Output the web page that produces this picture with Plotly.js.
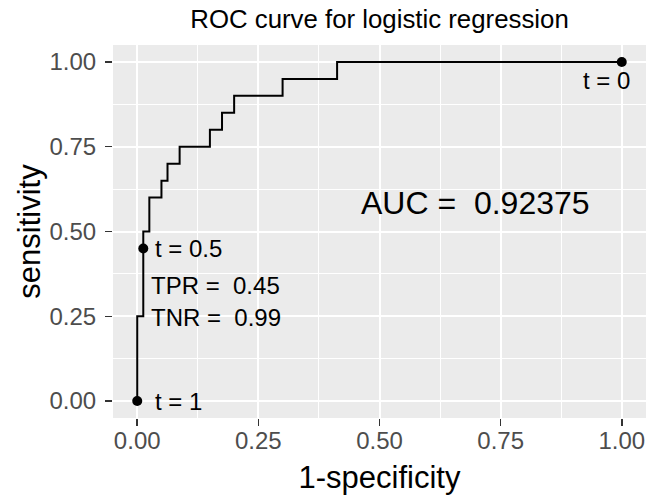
<!DOCTYPE html>
<html>
<head>
<meta charset="utf-8">
<script src="https://cdn.plot.ly/plotly-3.0.1.min.js"></script>
<style>html,body{margin:0;padding:0;background:#fff;}#chart{width:648px;height:499px;}</style>
</head>
<body>
<div id="chart"></div>
<script>
// ROC curve corner points (1-specificity, sensitivity)
var fpr = [0, 0, 0.0125, 0.025, 0.05, 0.0625, 0.0875, 0.15, 0.175, 0.2, 0.3, 0.4125, 1];
var tpr = [0, 0.25, 0.5, 0.6, 0.65, 0.7, 0.75, 0.8, 0.85, 0.9, 0.95, 1, 1];
// highlighted thresholds
var thrLabels = ["t = 1", "t = 0.5", "t = 0"];
var thrFpr = [0, 0.0125, 1];
var thrTpr = [0, 0.45, 1];
var tprAtHalf = 0.45;
var tnrAtHalf = 0.99;
var auc = 0.92375;
var tickVals = [0, 0.25, 0.5, 0.75, 1];
var tickText = ["0.00", "0.25", "0.50", "0.75", "1.00"];

var FONT = "Liberation Sans, Arial, sans-serif";

var traces = [
  {x: fpr, y: tpr, type: "scatter", mode: "lines", line: {shape: "hv", color: "#000", width: 2}, hoverinfo: "skip"},
  {x: thrFpr, y: thrTpr, type: "scatter", mode: "markers", marker: {color: "#000", size: 10}, hoverinfo: "skip"}
];

function axis(titleText, standoff) {
  return {
    range: [-0.05, 1.05],
    tickvals: tickVals,
    ticktext: tickText,
    ticks: "outside",
    ticklen: 7,
    tickwidth: 1.5,
    tickcolor: "#333333",
    tickfont: {family: FONT, size: 24, color: "#4D4D4D"},
    ticklabelstandoff: standoff,
    showgrid: true,
    gridcolor: "#FFFFFF",
    gridwidth: 2,
    minor: {tick0: 0.125, dtick: 0.25, showgrid: true, gridcolor: "#FFFFFF", gridwidth: 1, ticks: ""},
    zeroline: false,
    showline: false,
    fixedrange: true,
    title: {text: titleText, font: {family: FONT, size: 31, color: "#000"}}
  };
}

var xax = axis("1-specificity", -6);
xax.automargin = true;
xax.title.standoff = 13;

var layout = {
  width: 648,
  height: 499,
  margin: {l: 113, r: 2, t: 45, b: 81},
  paper_bgcolor: "#FFFFFF",
  plot_bgcolor: "#EBEBEB",
  showlegend: false,
  title: {text: "ROC curve for logistic regression", font: {family: FONT, size: 25.8, color: "#000"}, x: 0.5, xref: "paper", xanchor: "center", y: 0.962, yref: "container", yanchor: "middle"},
  xaxis: xax,
  yaxis: axis("sensitivity", 4),
  annotations: [
    {x: 0.032, y: thrTpr[0], text: thrLabels[0], xanchor: "left", yanchor: "middle", showarrow: false, font: {family: FONT, size: 24, color: "#000"}},
    {x: 0.033, y: thrTpr[1], text: thrLabels[1], xanchor: "left", yanchor: "middle", showarrow: false, font: {family: FONT, size: 24, color: "#000"}},
    {x: 0.025, y: 0.342, text: "TPR =  " + tprAtHalf.toFixed(2), xanchor: "left", yanchor: "middle", showarrow: false, font: {family: FONT, size: 24, color: "#000"}},
    {x: 0.025, y: 0.246, text: "TNR =  " + tnrAtHalf.toFixed(2), xanchor: "left", yanchor: "middle", showarrow: false, font: {family: FONT, size: 24, color: "#000"}},
    {x: 1.022, y: 0.944, text: thrLabels[2], xanchor: "right", yanchor: "middle", showarrow: false, font: {family: FONT, size: 24, color: "#000"}},
    {x: 0.699, y: 0.585, text: "AUC =  " + auc, xanchor: "center", yanchor: "middle", showarrow: false, font: {family: FONT, size: 32, color: "#000"}}
  ]
};

Plotly.newPlot("chart", traces, layout, {displayModeBar: false, staticPlot: true});
</script>
</body>
</html>
